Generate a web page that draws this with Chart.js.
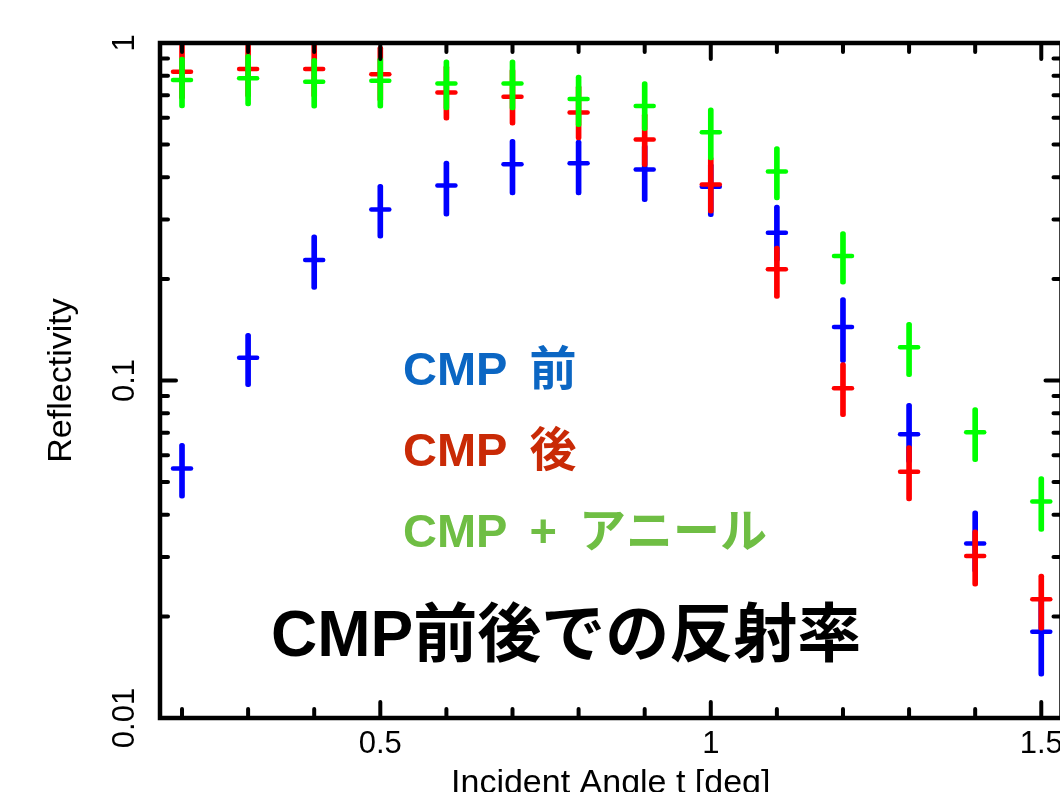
<!DOCTYPE html>
<html>
<head>
<meta charset="utf-8">
<script src="https://cdn.jsdelivr.net/npm/chart.js@4"></script>
<style>
  html, body { margin: 0; padding: 0; background: #fff; overflow: hidden; }
  canvas { display: block; background: #fff; }
</style>
</head>
<body>
<canvas id="chart" width="1075" height="810"></canvas>
<script>
// ---- data ----
const angles = [0.2, 0.3, 0.4, 0.5, 0.6, 0.7, 0.8, 0.9, 1.0, 1.1, 1.2, 1.3, 1.4, 1.5];

// CMP 前 (blue)
const beforeVal = [0.0549, 0.1168, 0.2275, 0.321, 0.378, 0.437, 0.440, 0.422, 0.375, 0.274, 0.144, 0.0693, 0.0329, 0.0180];
const beforeLo  = [0.0448, 0.0959, 0.186, 0.264, 0.307, 0.355, 0.355, 0.339, 0.306, 0.225, 0.113, 0.057, 0.027, 0.0133];
const beforeHi  = [0.0651, 0.138, 0.270, 0.381, 0.447, 0.518, 0.516, 0.50, 0.44, 0.331, 0.176, 0.0856, 0.0411, 0.0225];

// CMP 後 (red)
const afterVal = [0.822, 0.837, 0.837, 0.808, 0.714, 0.693, 0.622, 0.518, 0.381, 0.2136, 0.0948, 0.0537, 0.0302, 0.0225];
const afterLo  = [0.68, 0.69, 0.69, 0.67, 0.591, 0.571, 0.516, 0.43, 0.313, 0.175, 0.0781, 0.044, 0.0246, 0.0182];
const afterHi  = [1.02, 1.03, 1.03, 0.98, 0.86, 0.84, 0.75, 0.62, 0.46, 0.250, 0.113, 0.0641, 0.0361, 0.0267];

// CMP + アニール (green)
const annealVal = [0.777, 0.786, 0.768, 0.773, 0.759, 0.759, 0.683, 0.651, 0.544, 0.416, 0.234, 0.1254, 0.0702, 0.0438];
const annealLo  = [0.642, 0.651, 0.641, 0.641, 0.633, 0.633, 0.565, 0.55, 0.45, 0.343, 0.193, 0.1026, 0.0575, 0.0357];
const annealHi  = [0.909, 0.926, 0.901, 0.905, 0.891, 0.891, 0.804, 0.768, 0.643, 0.493, 0.276, 0.1487, 0.0831, 0.0519];

// axes
const xMin = 0.1667, xMax = 1.5306;
const yMin = 0.01, yMax = 1;
const xLabelTicks = [0.5, 1, 1.5];
const xMinorTicks = [0.2, 0.3, 0.4, 0.6, 0.7, 0.8, 0.9, 1.1, 1.2, 1.3, 1.4];
const yLabelTicks = [0.01, 0.1, 1];
const yMinorTicks = [0.02, 0.03, 0.04, 0.05, 0.06, 0.07, 0.08, 0.09, 0.2, 0.3, 0.4, 0.5, 0.6, 0.7, 0.8, 0.9];

const legendItems = [
  { text: 'CMP 前', color: '#0b66c3' },
  { text: 'CMP 後', color: '#c92a06' },
  { text: 'CMP + アニール', color: '#6fbe44' }
];
const chartTitle = 'CMP前後での反射率';

const FONT = '"Liberation Sans", "Noto Sans CJK JP", Arial, sans-serif';

function barData(lo, hi) {
  return angles.map((x, i) => ({ x, y: [lo[i], hi[i]] }));
}
function markData(val) {
  return angles.map((x, i) => ({ x, y: val[i] }));
}

function series(label, color, val, lo, hi, order) {
  return [
    {
      type: 'scatter', label, data: markData(val), order,
      pointStyle: 'line', radius: 9, borderWidth: 4.5,
      borderColor: color, backgroundColor: color, hoverRadius: 9
    },
    {
      type: 'bar', label: label + ' err', data: barData(lo, hi), order: order + 1,
      backgroundColor: color, borderWidth: 0, barThickness: 5,
      borderRadius: 2.5, borderSkipped: false, grouped: false
    }
  ];
}

// frame, inward ticks, annotations
const framePlugin = {
  id: 'frame',
  beforeDatasetsDraw(chart) { chart.ctx.lineCap = 'round'; },
  afterDatasetsDraw(chart) {
    const { ctx, chartArea: a, scales: { x, y } } = chart;
    ctx.save();
    ctx.strokeStyle = '#000';
    ctx.lineCap = 'round';
    ctx.lineWidth = 4;
    const tick = (px, len, horiz) => {
      ctx.beginPath();
      if (horiz) {
        ctx.moveTo(px, a.bottom); ctx.lineTo(px, a.bottom - len);
        ctx.moveTo(px, a.top); ctx.lineTo(px, a.top + len);
      } else {
        ctx.moveTo(a.left, px); ctx.lineTo(a.left + len, px);
        ctx.moveTo(a.right, px); ctx.lineTo(a.right - len, px);
      }
      ctx.stroke();
    };
    xLabelTicks.forEach(v => tick(x.getPixelForValue(v), 16, true));
    xMinorTicks.forEach(v => tick(x.getPixelForValue(v), 9, true));
    yLabelTicks.forEach(v => tick(y.getPixelForValue(v), 16, false));
    yMinorTicks.forEach(v => tick(y.getPixelForValue(v), 8, false));
    ctx.lineCap = 'butt';
    ctx.lineWidth = 4.5;
    ctx.strokeRect(a.left, a.top, a.right - a.left, a.bottom - a.top);
    ctx.restore();
  },
  afterDraw(chart) {
    const ctx = chart.ctx;
    ctx.save();
    ctx.textBaseline = 'alphabetic';
    ctx.textAlign = 'left';
    ctx.font = 'bold 47px ' + FONT;
    ctx.wordSpacing = '9px';
    legendItems.forEach((it, i) => {
      ctx.fillStyle = it.color;
      ctx.fillText(it.text, 403, 385 + i * 81);
    });
    ctx.wordSpacing = '0px';
    ctx.font = 'bold 64px ' + FONT;
    ctx.fillStyle = '#000';
    ctx.fillText(chartTitle, 271, 656);
    ctx.restore();
  }
};

new Chart(document.getElementById('chart'), {
  type: 'bar',
  data: {
    datasets: [
      ...series('CMP + アニール', '#00ff00', annealVal, annealLo, annealHi, 0),
      ...series('CMP 後', '#ff0000', afterVal, afterLo, afterHi, 2),
      ...series('CMP 前', '#0000ff', beforeVal, beforeLo, beforeHi, 4)
    ]
  },
  options: {
    responsive: false,
    devicePixelRatio: 1,
    animation: false,
    events: [],
    layout: { padding: { top: 43, right: 8, left: 0, bottom: 0 } },
    plugins: { legend: { display: false }, tooltip: { enabled: false }, title: { display: false } },
    scales: {
      x: {
        type: 'linear', position: 'bottom', min: xMin, max: xMax, offset: false,
        afterBuildTicks: s => { s.ticks = xLabelTicks.map(v => ({ value: v })); },
        afterFit: s => { s.height = 92; s.paddingLeft = 0; s.paddingRight = 0; },
        grid: { display: false, drawTicks: false, offset: false },
        border: { display: false },
        ticks: {
          maxRotation: 0, autoSkip: false, padding: 8, color: '#000',
          font: { family: FONT, size: 31 },
          callback: v => String(v)
        },
        title: {
          display: true, text: 'Incident Angle t [deg]', color: '#000',
          font: { family: FONT, size: 34 }, padding: { top: 0, bottom: 6 }
        }
      },
      y: {
        type: 'logarithmic', position: 'left', min: yMin, max: yMax,
        afterBuildTicks: s => { s.ticks = yLabelTicks.map(v => ({ value: v })); },
        afterFit: s => { s.width = 160; s.paddingTop = 0; s.paddingBottom = 0; },
        grid: { display: false, drawTicks: false },
        border: { display: false },
        ticks: {
          minRotation: 90, maxRotation: 90, crossAlign: 'center', autoSkip: false,
          padding: 4, color: '#000',
          font: { family: FONT, size: 31 },
          callback: v => String(v)
        },
        title: {
          display: true, text: 'Reflectivity', color: '#000',
          font: { family: FONT, size: 34 }, padding: { top: 41, bottom: 0 }
        }
      }
    }
  },
  plugins: [framePlugin]
});
</script>
</body>
</html>
